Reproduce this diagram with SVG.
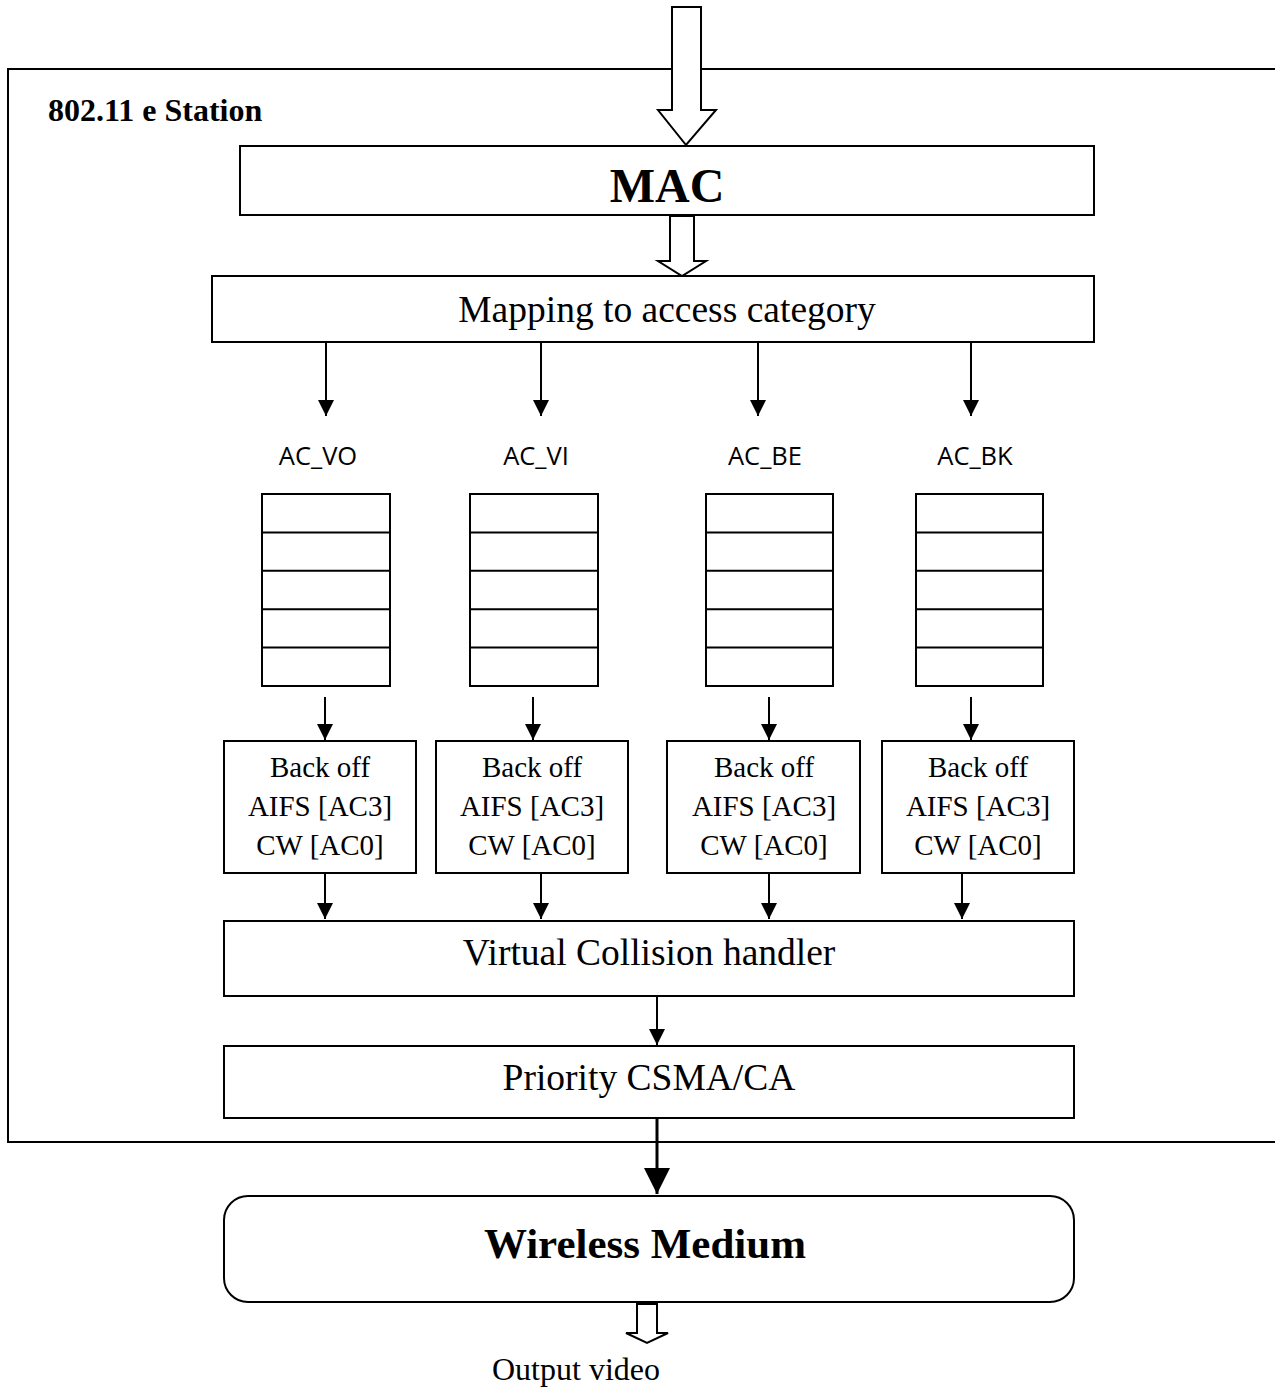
<svg xmlns="http://www.w3.org/2000/svg" width="1275" height="1391" viewBox="0 0 1275 1391">
  <style>
    .box { fill: #fff; stroke: #000; stroke-width: 2; }
    .ln { stroke: #000; stroke-width: 2; fill: none; }
    .hollow { fill: #fff; stroke: #000; stroke-width: 2; stroke-linejoin: miter; }
    .serif { font-family: "Liberation Serif", "Times New Roman", serif; fill: #000; }
    .sans { font-family: "Open Sans", "Liberation Sans", sans-serif; fill: #000; }
    .t37 { font-size: 37.5px; }
    .t29 { font-size: 29px; }
  </style>
  <defs>
    <marker id="arr" markerWidth="16" markerHeight="16" viewBox="0 0 16 16" refX="16" refY="8" orient="auto" markerUnits="userSpaceOnUse">
      <path d="M0,0 L16,8 L0,16 Z" fill="#000"/>
    </marker>
    <marker id="arrBig" markerWidth="26" markerHeight="26" viewBox="0 0 26 26" refX="26" refY="13" orient="auto" markerUnits="userSpaceOnUse">
      <path d="M0,0 L26,13 L0,26 Z" fill="#000"/>
    </marker>
  </defs>

  <rect width="1275" height="1391" fill="#fff"/>

  <!-- station enclosure (open on the right) -->
  <g id="station">
    <path class="ln" d="M1275,69 L8,69 L8,1142 L1275,1142"/>
    <text class="serif" x="48" y="121" font-size="32" font-weight="bold">802.11 e Station</text>
  </g>

  <!-- incoming data arrow -->
  <g id="input-arrow">
    <path class="hollow" d="M672,7 L701,7 L701,110 L716,110 L686,145 L658,110 L672,110 Z"/>
  </g>

  <g id="mac">
    <rect class="box" x="240" y="146" width="854" height="69"/>
    <text class="serif" x="667" y="202" font-size="48" font-weight="bold" text-anchor="middle">MAC</text>
  </g>

  <g id="mac-to-mapping">
    <path class="hollow" d="M670,216 L694,216 L694,261 L706,261 L682,276 L658,261 L670,261 Z"/>
  </g>

  <g id="mapping">
    <rect class="box" x="212" y="276" width="882" height="66"/>
    <text class="serif t37" x="667" y="322" text-anchor="middle">Mapping to access category</text>
  </g>

  <!-- access category labels -->
  <g id="ac-labels" class="sans" font-size="25.5" text-anchor="middle">
    <text x="318" y="465">AC_VO</text>
    <text x="536" y="465">AC_VI</text>
    <text x="765" y="465">AC_BE</text>
    <text x="975" y="465">AC_BK</text>
  </g>

  <!-- per-category transmit queues -->
  <g id="queue-vo">
    <rect class="box" x="262" y="494" width="128" height="192"/>
    <path class="ln" d="M262,532.4 H390 M262,570.8 H390 M262,609.2 H390 M262,647.6 H390"/>
  </g>
  <g id="queue-vi">
    <rect class="box" x="470" y="494" width="128" height="192"/>
    <path class="ln" d="M470,532.4 H598 M470,570.8 H598 M470,609.2 H598 M470,647.6 H598"/>
  </g>
  <g id="queue-be">
    <rect class="box" x="706" y="494" width="127" height="192"/>
    <path class="ln" d="M706,532.4 H833 M706,570.8 H833 M706,609.2 H833 M706,647.6 H833"/>
  </g>
  <g id="queue-bk">
    <rect class="box" x="916" y="494" width="127" height="192"/>
    <path class="ln" d="M916,532.4 H1043 M916,570.8 H1043 M916,609.2 H1043 M916,647.6 H1043"/>
  </g>

  <!-- back-off entities -->
  <g id="backoff-vo">
    <rect class="box" x="224" y="741" width="192" height="132"/>
    <text class="serif t29" text-anchor="middle"><tspan x="320" y="777">Back off</tspan><tspan x="320" y="816">AIFS [AC3]</tspan><tspan x="320" y="855">CW [AC0]</tspan></text>
  </g>
  <g id="backoff-vi">
    <rect class="box" x="436" y="741" width="192" height="132"/>
    <text class="serif t29" text-anchor="middle"><tspan x="532" y="777">Back off</tspan><tspan x="532" y="816">AIFS [AC3]</tspan><tspan x="532" y="855">CW [AC0]</tspan></text>
  </g>
  <g id="backoff-be">
    <rect class="box" x="667" y="741" width="193" height="132"/>
    <text class="serif t29" text-anchor="middle"><tspan x="764" y="777">Back off</tspan><tspan x="764" y="816">AIFS [AC3]</tspan><tspan x="764" y="855">CW [AC0]</tspan></text>
  </g>
  <g id="backoff-bk">
    <rect class="box" x="882" y="741" width="192" height="132"/>
    <text class="serif t29" text-anchor="middle"><tspan x="978" y="777">Back off</tspan><tspan x="978" y="816">AIFS [AC3]</tspan><tspan x="978" y="855">CW [AC0]</tspan></text>
  </g>

  <g id="collision-handler">
    <rect class="box" x="224" y="921" width="850" height="75"/>
    <text class="serif t37" x="649" y="965" text-anchor="middle">Virtual Collision handler</text>
  </g>

  <g id="priority-csma">
    <rect class="box" x="224" y="1046" width="850" height="72"/>
    <text class="serif t37" x="649" y="1090" text-anchor="middle">Priority CSMA/CA</text>
  </g>

  <g id="wireless-medium">
    <rect class="box" x="224" y="1196" width="850" height="106" rx="24" ry="24"/>
    <text class="serif" x="645" y="1258" font-size="43" font-weight="bold" text-anchor="middle">Wireless Medium</text>
  </g>

  <g id="output-arrow">
    <path class="hollow" d="M637,1304 L657,1304 L657,1333 L668,1333 L647,1343 L626,1333 L637,1333 Z"/>
  </g>
  <g id="output-label">
    <text class="serif" x="576" y="1380" font-size="32" text-anchor="middle">Output video</text>
  </g>

  <!-- connectors -->
  <g id="connectors" class="ln">
    <line x1="326" y1="342" x2="326" y2="416" marker-end="url(#arr)"/>
    <line x1="541" y1="342" x2="541" y2="416" marker-end="url(#arr)"/>
    <line x1="758" y1="342" x2="758" y2="416" marker-end="url(#arr)"/>
    <line x1="971" y1="342" x2="971" y2="416" marker-end="url(#arr)"/>

    <line x1="325" y1="697" x2="325" y2="740" marker-end="url(#arr)"/>
    <line x1="533" y1="697" x2="533" y2="740" marker-end="url(#arr)"/>
    <line x1="769" y1="697" x2="769" y2="740" marker-end="url(#arr)"/>
    <line x1="971" y1="697" x2="971" y2="740" marker-end="url(#arr)"/>

    <line x1="325" y1="873" x2="325" y2="919" marker-end="url(#arr)"/>
    <line x1="541" y1="873" x2="541" y2="919" marker-end="url(#arr)"/>
    <line x1="769" y1="873" x2="769" y2="919" marker-end="url(#arr)"/>
    <line x1="962" y1="873" x2="962" y2="919" marker-end="url(#arr)"/>

    <line x1="657" y1="996" x2="657" y2="1045" marker-end="url(#arr)"/>
    <line x1="657" y1="1118" x2="657" y2="1194" stroke-width="3" marker-end="url(#arrBig)"/>
  </g>
</svg>
